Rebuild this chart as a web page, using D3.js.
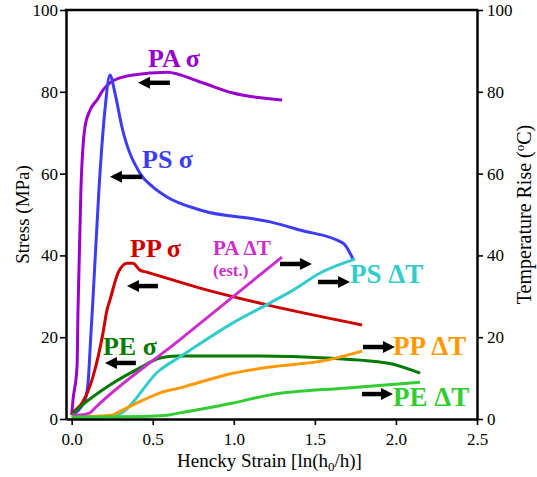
<!DOCTYPE html>
<html>
<head>
<meta charset="utf-8">
<script src="https://cdn.jsdelivr.net/npm/d3@7"></script>
<style>
  body { margin: 0; background: #fff; }
  svg text { font-family: "Liberation Serif", "Tinos", "Times New Roman", "DejaVu Serif", serif !important; }
</style>
</head>
<body>
<svg></svg>
<script>
const strainTicks = [0, 0.5, 1.0, 1.5, 2.0, 2.5]
const stressTicks = [0, 20, 40, 60, 80, 100]
const tempTicks = [0, 20, 40, 60, 80, 100]

// stress curves: [Hencky strain, stress in MPa]
const paStress = [[0, 1], [0.008, 4.6], [0.033, 12.7], [0.039, 26.7], [0.057, 56], [0.082, 71.4], [0.113, 75.5],
    [0.156, 78], [0.193, 80.4], [0.236, 82.2], [0.298, 83.4], [0.378, 84.1], [0.588, 84.8], [0.792, 82.4],
    [0.995, 79.7], [1.297, 78]]
const psStress = [[0, 1], [0.082, 4.6], [0.101, 8.8], [0.119, 21], [0.131, 29.1], [0.168, 56], [0.205, 75.5],
    [0.236, 84.1], [0.267, 79.7], [0.31, 71.4], [0.421, 60.1], [0.502, 56.7], [0.588, 54.3], [0.792, 51.1],
    [1.224, 48.2], [1.408, 46.2], [1.674, 43], [1.735, 39.1]]
const ppStress = [[0, 1], [0.008, 1.5], [0.064, 3.9], [0.131, 10.3], [0.193, 21], [0.218, 26.7], [0.236, 29.1],
    [0.286, 35.7], [0.341, 38.1], [0.378, 38.1], [0.421, 36.4], [0.464, 35.9], [0.792, 32], [1.205, 27.9],
    [1.791, 23]]
const peStress = [[0, 1], [0.051, 2.9], [0.236, 8.3], [0.421, 12.5], [0.545, 14.9], [0.65, 15.4], [0.995, 15.4],
    [1.161, 15.4], [1.575, 14.9], [1.945, 13.7], [2.149, 11.2]]

// temperature rise curves: [Hencky strain, deg C]
const psTemp = [[0, 0.5], [0.2, 0.6], [0.28, 1], [0.545, 12], [0.668, 15.2], [0.995, 23.5], [1.224, 28.4],
    [1.366, 31.5], [1.532, 35.7], [1.748, 39.1]]
const ppTemp = [[0, 0.5], [0.255, 1], [0.28, 1.5], [0.44, 4.6], [0.545, 6.4], [0.668, 7.6], [0.995, 11.2],
    [1.224, 12.7], [1.575, 14.4], [1.791, 16.6]]
const paTemp = [[0, 1], [0.05, 1], [0.113, 1.5], [0.144, 2.7], [0.668, 19.4], [1.297, 39.6]]
const peTemp = [[0, 0.5], [0.48, 0.7], [0.6, 1], [0.668, 1.5], [0.995, 3.9], [1.161, 5.4], [1.224, 5.9],
    [1.7, 7.6], [2.149, 9]]

const series = [
    { name: "PA σ", data: paStress, color: "#9900cc" },
    { name: "PS σ", data: psStress, color: "#3c3cf5" },
    { name: "PP σ", data: ppStress, color: "#cc0000" },
    { name: "PE σ", data: peStress, color: "#007a00" },
    { name: "PS ΔT", data: psTemp, color: "#33cccc" },
    { name: "PP ΔT", data: ppTemp, color: "#ff9900" },
    { name: "PA ΔT", data: paTemp, color: "#cc2ecc" },
    { name: "PE ΔT", data: peTemp, color: "#33cc33" }
]

// label anchors (strain, value) and arrows (tail strain, tip strain, value)
const labels = [
    { text: "PA σ", x: 0.471, y: 86.1, size: 26, color: "#9900cc" },
    { text: "PS σ", x: 0.434, y: 61.4, size: 26, color: "#3c3cf5" },
    { text: "PP σ", x: 0.36, y: 39.6, size: 26, color: "#cc0000" },
    { text: "PE σ", x: 0.193, y: 15.6, size: 26, color: "#007a00" },
    { text: "PA ΔT", x: 0.872, y: 40.0, size: 21, color: "#cc2ecc" },
    { text: "(est.)", x: 0.872, y: 35.0, size: 17, color: "#cc2ecc" },
    { text: "PS ΔT", x: 1.717, y: 33.3, size: 27, color: "#33cccc" },
    { text: "PP ΔT", x: 1.982, y: 15.6, size: 27, color: "#ff9900" },
    { text: "PE ΔT", x: 1.982, y: 3.2, size: 27, color: "#33cc33" }
]
const arrows = [
    [0.606, 0.409, 82.2],
    [0.434, 0.236, 59.2],
    [0.532, 0.341, 32.5],
    [0.396, 0.205, 13.7],
    [1.285, 1.482, 37.9],
    [1.519, 1.717, 33.5],
    [1.797, 1.994, 17.6],
    [1.791, 1.982, 6.1]
]

const width = 537
const height = 477
const serif = "'Liberation Serif', 'Tinos', 'Times New Roman', 'DejaVu Serif', serif"

const svg = d3.select("svg")
    .attr("width", width)
    .attr("height", height)
    .attr("font-family", serif)

const xScale = d3.scaleLinear().domain([-0.035, 2.5]).range([66, 477])
const yScale = d3.scaleLinear().domain([0, 100]).range([419, 10])
const tScale = d3.scaleLinear().domain([0, 100]).range([419, 10])

const [x0, x1] = xScale.range()
const [yBottom, yTop] = yScale.range()

// curves
const line = d3.line()
    .x(d => xScale(d[0]))
    .y(d => yScale(d[1]))
    .curve(d3.curveMonotoneX)

svg.selectAll(".curve")
    .data(series)
    .enter()
    .append("path")
    .attr("class", "curve")
    .attr("d", d => line(d.data))
    .attr("fill", "none")
    .attr("stroke", d => d.color)
    .attr("stroke-width", 3)
    .attr("stroke-linejoin", "round")
    .attr("stroke-linecap", "butt")

// axes
function styleAxis(g) {
    g.attr("font-family", serif)
    g.select(".domain").attr("stroke-width", 2.5)
    g.selectAll(".tick line").attr("stroke-width", 1.6)
    g.selectAll(".tick text")
        .attr("font-size", 17)
        .attr("fill", "#000")
}

svg.append("g")
    .attr("transform", "translate(0," + yBottom + ")")
    .call(d3.axisBottom(xScale).tickValues(strainTicks).tickFormat(d3.format(".1f"))
        .tickSize(6).tickSizeOuter(0).tickPadding(8))
    .call(styleAxis)

svg.append("g")
    .attr("transform", "translate(" + x0 + ",0)")
    .call(d3.axisLeft(yScale).tickValues(stressTicks).tickFormat(d3.format("d"))
        .tickSize(6).tickSizeOuter(0).tickPadding(2))
    .call(styleAxis)

svg.append("g")
    .attr("transform", "translate(" + x1 + ",0)")
    .call(d3.axisRight(tScale).tickValues(tempTicks).tickFormat(d3.format("d"))
        .tickSize(6).tickSizeOuter(0).tickPadding(4))
    .call(styleAxis)

svg.append("line")
    .attr("x1", x0 - 1.25)
    .attr("x2", x1 + 1.25)
    .attr("y1", yTop)
    .attr("y2", yTop)
    .attr("stroke", "#000")
    .attr("stroke-width", 2.5)

// axis titles
const xTitle = svg.append("text")
    .attr("x", (x0 + x1) / 2 - 2)
    .attr("y", 467)
    .attr("text-anchor", "middle")
    .attr("font-size", 19)
xTitle.append("tspan").text("Hencky Strain [ln(h")
xTitle.append("tspan").attr("font-size", 13).attr("dy", 4).text("0")
xTitle.append("tspan").attr("dy", -4).text("/h)]")

svg.append("text")
    .attr("transform", "translate(29," + (yTop + yBottom) / 2 + ") rotate(-90)")
    .attr("text-anchor", "middle")
    .attr("font-size", 19)
    .text("Stress (MPa)")

const tTitle = svg.append("text")
    .attr("transform", "translate(531," + ((yTop + yBottom) / 2) + ") rotate(-90)")
    .attr("text-anchor", "middle")
    .attr("font-size", 20)
tTitle.append("tspan").text("Temperature Rise (")
tTitle.append("tspan").attr("font-size", 13).attr("dy", -7).text("o")
tTitle.append("tspan").attr("dy", 7).text("C)")

// curve labels
svg.selectAll(".label")
    .data(labels)
    .enter()
    .append("text")
    .attr("class", "label")
    .attr("x", d => xScale(d.x))
    .attr("y", d => yScale(d.y))
    .attr("font-size", d => d.size)
    .attr("font-weight", "bold")
    .attr("fill", d => d.color)
    .text(d => d.text)

// arrows
const headLen = 12
const headHalf = 6
arrows.forEach(a => {
    const tail = xScale(a[0])
    const tip = xScale(a[1])
    const y = yScale(a[2])
    const dir = tip > tail ? 1 : -1
    svg.append("line")
        .attr("x1", tail)
        .attr("x2", tip - dir * (headLen - 1))
        .attr("y1", y)
        .attr("y2", y)
        .attr("stroke", "#000")
        .attr("stroke-width", 4.5)
    svg.append("path")
        .attr("d", "M" + tip + "," + y +
            "L" + (tip - dir * headLen) + "," + (y - headHalf) +
            "L" + (tip - dir * headLen) + "," + (y + headHalf) + "Z")
        .attr("fill", "#000")
})
</script>
</body>
</html>
